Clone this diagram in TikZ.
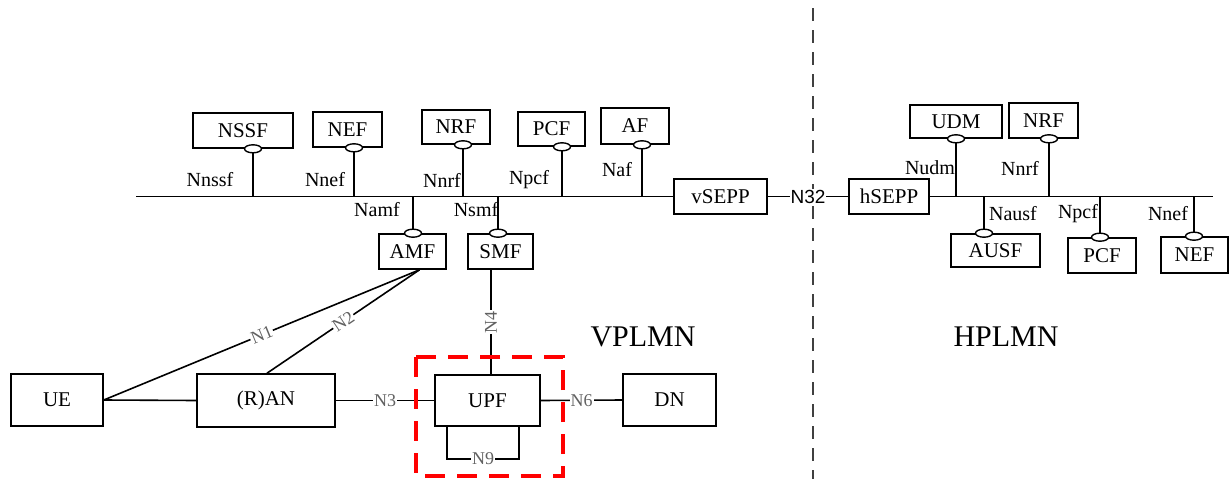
\documentclass[tikz,border=0pt]{standalone}
\usepackage{fontspec}
\setmainfont{Liberation Serif}
\setsansfont{Liberation Sans}
\usetikzlibrary{calc,shapes.geometric}
\begin{document}
\begin{tikzpicture}[x=1pt,y=-1pt,
  every node/.style={font=\fontsize{20}{24}\selectfont},
  nfbox/.style={draw, line width=1.6pt, inner sep=0pt, minimum width=#1, font=\fontsize{21}{24}\selectfont},
  nfbox/.default=60,
  port/.style={draw, fill=white, ellipse, line width=1.4pt, minimum width=17pt, minimum height=8pt, inner sep=0pt},
  link/.style={line width=1.6pt},
  ifl/.style={inner sep=1pt},
  nlab/.style={fill=white, inner sep=1pt, text=black!62, font=\fontsize{18}{20}\selectfont},
  plmn/.style={font=\fontsize{30}{34}\selectfont}
]
\useasboundingbox (0,0) rectangle (1231,479);

% divider
\draw[line width=2pt, black!75, dash pattern=on 13pt off 9pt] (813,8) coordinate (dtop) -- (813,479) coordinate (dbot);

% VPLMN boxes
\node[nfbox=100, minimum height=35] (nssf) at (243,130.5) {NSSF};
\node[nfbox=69, minimum height=35] (nef) at (347.5,129.5) {NEF};
\node[nfbox=68, minimum height=34] (nrf) at (456,127) {NRF};
\node[nfbox=67, minimum height=34] (pcf) at (551.5,129) {PCF};
\node[nfbox=68, minimum height=36] (af) at (635,126) {AF};
\node[nfbox=93, minimum height=35] (vsepp) at (720.5,196.5) {vSEPP};
\node[nfbox=67, minimum height=35] (amf) at (412.5,251.5) {AMF};
\node[nfbox=65, minimum height=35] (smf) at (500.5,251.5) {SMF};

% HPLMN boxes
\node[nfbox=80, minimum height=35] (hsepp) at (889,196.5) {hSEPP};
\node[nfbox=92, minimum height=33] (udm) at (956,121.5) {UDM};
\node[nfbox=69, minimum height=35] (nrfh) at (1043.5,120.5) {NRF};
\node[nfbox=89, minimum height=33] (ausf) at (995.5,250.5) {AUSF};
\node[nfbox=68, minimum height=35] (pcfh) at (1102,255.5) {PCF};
\node[nfbox=67, minimum height=36] (nefh) at (1194.5,255) {NEF};

% user plane
\node[nfbox=92, minimum height=52] (ue) at (57,400) {UE};
\node[nfbox=138, minimum height=53] (ran) at (266,400.5) {(R)AN};
\node[nfbox=105, minimum height=51] (upf) at (487.5,400.5) {UPF};
\node[nfbox=93, minimum height=52] (dn) at (669.5,400) {DN};

% bus lines
\coordinate (vbus) at (136,196.5);
\coordinate (hbus) at (1213,196.5);
\draw[link] (vbus) -- (vsepp.west);
\draw[link] (hsepp.east) -- (hbus);
\draw[link] (vsepp.east) -- node[fill=white, inner sep=1pt, font=\sffamily\fontsize{19}{22}\selectfont] {N32} (hsepp.west);

% service-based interfaces (VPLMN)
\foreach \b/\x/\n in {nssf/253/pnssf, nef/354/pnef, nrf/463/pnrf, pcf/562/ppcf, af/642/paf}{
  \draw[link] (\x,0 |- \b.south) coordinate (\n) -- (\n |- vbus);
  \node[port] at (\n) {};
}
\foreach \b/\x/\n in {amf/413/pamf, smf/498/psmf}{
  \draw[link] (\x,0 |- \b.north) coordinate (\n) -- (\n |- vbus);
  \node[port] at (\n) {};
}
% service-based interfaces (HPLMN)
\foreach \b/\x/\n in {udm/956/pudm, nrfh/1049/pnrfh}{
  \draw[link] (\x,0 |- \b.south) coordinate (\n) -- (\n |- hbus);
  \node[port] at (\n) {};
}
\foreach \b/\x/\n in {ausf/984/pausf, pcfh/1100/ppcfh, nefh/1194/pnefh}{
  \draw[link] (\x,0 |- \b.north) coordinate (\n) -- (\n |- hbus);
  \node[port] at (\n) {};
}

% interface labels
\node[ifl] (l1) at (210,180) {Nnssf};
\node[ifl] (l2) at (325,180) {Nnef};
\node[ifl] (l3) at (442,180) {Nnrf};
\node[ifl] (l4) at (529,180) {Npcf};
\node[ifl] (l5) at (617,170) {Naf};
\node[ifl] (l6) at (377,210) {Namf};
\node[ifl] (l7) at (476,210) {Nsmf};
\node[ifl] (l8) at (930,168) {Nudm};
\node[ifl] (l9) at (1020,168) {Nnrf};
\node[ifl] (l10) at (1013,214) {Nausf};
\node[ifl] (l11) at (1078,214) {Npcf};
\node[ifl] (l12) at (1168,214) {Nnef};

% reference points
\coordinate (amfp) at ($(amf.south)+(7,0)$);
\draw[link] (ue.east) -- node[nlab, sloped, pos=0.5] {N1} (amfp);
\draw[link] ($(ran.north)+(1,0)$) coordinate (ranp) -- node[nlab, sloped, pos=0.5] {N2} (amfp);
\draw[link] (ue.east) -- (ran.west);
\draw[link] (ran.east) -- node[nlab] {N3} (upf.west);
\draw[link] (491,0 |- smf.south) coordinate (smfp) -- node[nlab, rotate=90] {N4} (smfp |- upf.north);
\draw[link] (upf.east) -- node[nlab] {N6} (dn.west);
\draw[link] (447,0 |- upf.south) coordinate (n9a) -- (447,459) -- node[nlab] {N9} (519,459) -- (519,0 |- upf.south);

% highlight
\draw[red, line width=4.5pt, dash pattern=on 20pt off 12pt] (416,357) rectangle (563,476);

% PLMN labels
\node[plmn] (vp) at (643,337) {VPLMN};
\node[plmn] (hp) at (1006,337) {HPLMN};
\end{tikzpicture}
\end{document}
